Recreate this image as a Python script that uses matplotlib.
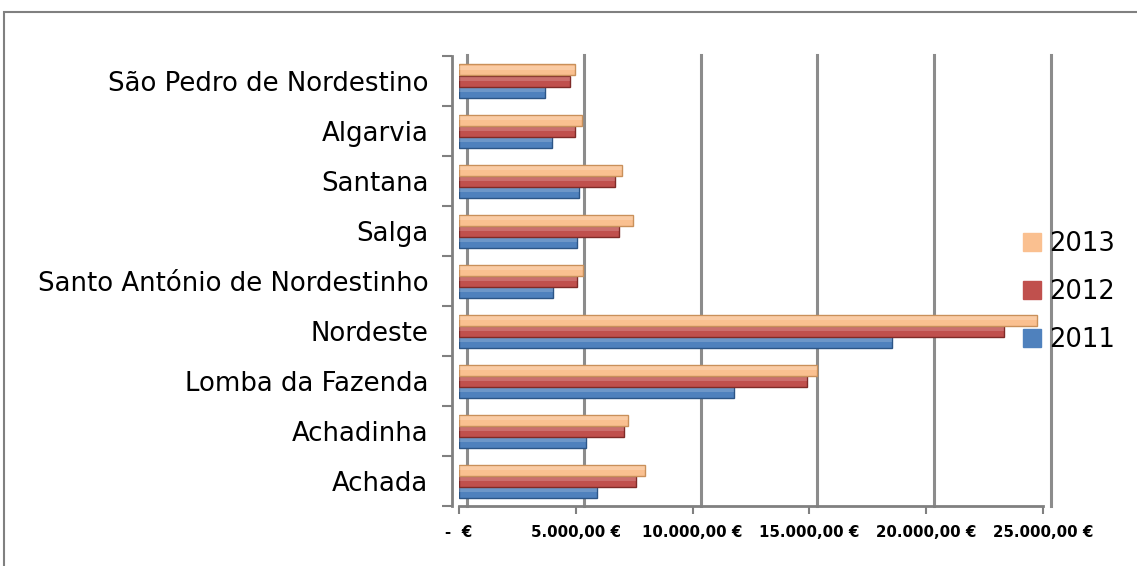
import matplotlib.pyplot as plt
import matplotlib.transforms as mtransforms
from matplotlib.patches import Rectangle
import numpy as np

# dados (de baixo para cima)
freguesias = ['Achada', 'Achadinha', 'Lomba da Fazenda', 'Nordeste',
              'Santo António de Nordestinho', 'Salga', 'Santana',
              'Algarvia', 'São Pedro de Nordestino']
v2011 = [5890, 5430, 11770, 18530, 4030, 5060, 5150, 3980, 3680]
v2012 = [7580, 7060, 14890, 23330, 5060, 6840, 6670, 4980, 4760]
v2013 = [7970, 7230, 15320, 24760, 5320, 7450, 6970, 5280, 4980]
anos = ['2011', '2012', '2013']
cores = ['#4f81bd', '#c0504d', '#fac090']
cores_escuras = ['#2c5586', '#7f2b28', '#c9905a']
xticks = [0, 5000, 10000, 15000, 20000, 25000]
xlabels = ['-  €', '5.000,00 €', '10.000,00 €', '15.000,00 €', '20.000,00 €', '25.000,00 €']

fig = plt.figure(figsize=(11.37, 5.66), dpi=100)
W, H = 1137, 566

# moldura da área do gráfico
fig.patches.append(Rectangle((4 / W, -0.05), 1.2, 1 - 12 / H + 0.05,
                             transform=fig.transFigure, fill=False,
                             edgecolor='#808080', linewidth=1.5))

ax = fig.add_axes([459 / W, 1 - 506 / H, 584 / W, 450 / H])
ax.set_xlim(0, 25000)
ax.set_ylim(-0.5, len(freguesias) - 0.5)

# linhas de grelha (parede do fundo, ligeiramente deslocadas)
off = mtransforms.ScaledTranslation(8 / 100, 4 / 100, fig.dpi_scale_trans)
for xt in xticks:
    ax.plot([xt, xt], [-0.58, len(freguesias) - 0.55], color='#8c8c8c', lw=2.2,
            transform=ax.transData + off, zorder=0, clip_on=False)

y = np.arange(len(freguesias))
h = 0.22
for i, (vals, c, ce) in enumerate(zip([v2011, v2012, v2013], cores, cores_escuras)):
    pos = y + (i - 1) * h
    ax.barh(pos, vals, height=h, color=c, edgecolor=ce, linewidth=1.0,
            label=anos[i], zorder=3)
    # brilho superior para imitar o efeito 3D
    ax.barh(pos + h * 0.18, vals, height=h * 0.3, color='white', alpha=0.18,
            linewidth=0, zorder=4)

ax.set_yticks(y)
ax.set_yticklabels(freguesias)
ax.set_yticks(np.arange(-0.5, len(freguesias)), minor=True)
ax.tick_params(axis='y', which='major', length=0, pad=17, labelsize=18.7)
ax.tick_params(axis='y', which='minor', length=7, width=1.5, color='#808080')

ax.set_xticks(xticks)
ax.set_xticklabels(xlabels, fontweight='bold')
ax.tick_params(axis='x', length=6, width=1.5, color='#808080', pad=8, labelsize=10.8)

for s in ['top', 'right']:
    ax.spines[s].set_visible(False)
for s in ['left', 'bottom']:
    ax.spines[s].set_color('#808080')
    ax.spines[s].set_linewidth(2)
ax.spines['left'].set_position(('outward', 5))

handles, labels = ax.get_legend_handles_labels()
handles = [plt.Rectangle((0, 0), 1, 1, color=c) for c in cores]
leg = ax.legend(handles[::-1], labels[::-1], loc='center left',
                bbox_to_anchor=(1000 / W, 1 - 292 / H), bbox_transform=fig.transFigure,
                frameon=False, fontsize=18.5, handlelength=0.7, handleheight=0.7,
                labelspacing=0.85, handletextpad=0.3)

fig.savefig('out.png', dpi=100)
